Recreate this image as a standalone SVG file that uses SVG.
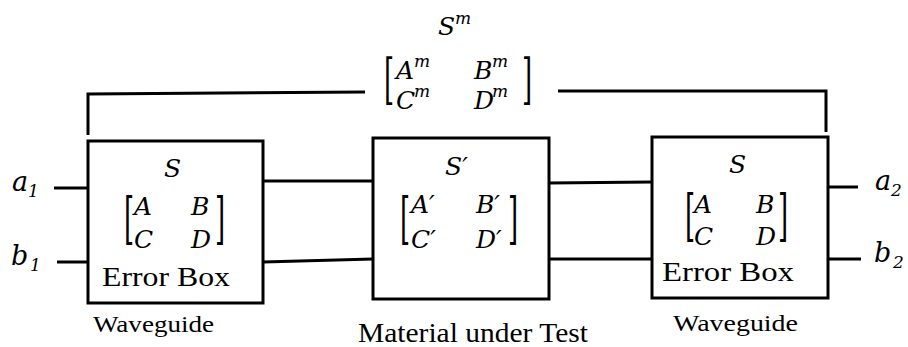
<svg xmlns="http://www.w3.org/2000/svg" width="908" height="347" viewBox="0 0 908 347">
  <style>
    .box { fill: #fff; stroke: #000; stroke-width: 3; }
    .wire { fill: none; stroke: #000; stroke-width: 3; }
    text { font-family: "DejaVu Serif", "Liberation Serif", serif; fill: #000; }
    .m { font-style: italic; font-size: 25px; }
    .p { font-style: italic; font-size: 27px; }
    .sup { font-size: 17px; }
    .br { font-size: 26px; font-weight: 300; }
    .tx { font-family: "Liberation Serif", "DejaVu Serif", serif; }
  </style>
  <defs>
    <!-- tall square brackets for the 2x2 matrices -->
    <text id="lb" class="br">[</text>
    <text id="rb" class="br">]</text>
  </defs>

  <!-- connectors -->
  <g id="connectors">
    <path class="wire" d="M54,188 H88"/>
    <path class="wire" d="M57,262 H88"/>
    <path class="wire" d="M263,181 H373"/>
    <path class="wire" d="M263,262 L373,259"/>
    <path class="wire" d="M549,183 L652,182"/>
    <path class="wire" d="M549,259 H652"/>
    <path class="wire" d="M828,187 H858"/>
    <path class="wire" d="M828,259 H861"/>
    <!-- overall measured network bracket -->
    <path class="wire" d="M88,135 V94 L365,92"/>
    <path class="wire" d="M558,91 H826 V132"/>
  </g>

  <!-- port labels -->
  <g id="ports">
    <text class="p" x="12" y="191">a<tspan class="sup" x="28" y="197">1</tspan></text>
    <text class="p" x="11" y="265">b<tspan class="sup" x="30" y="271">1</tspan></text>
    <text class="p" x="875" y="190">a<tspan class="sup" x="891" y="196">2</tspan></text>
    <text class="p" x="874" y="262">b<tspan class="sup" x="893" y="268">2</tspan></text>
  </g>

  <!-- measured S-parameters of the whole chain -->
  <g id="measured">
    <text class="m" x="438" y="35">S<tspan class="sup" x="455" y="24">m</tspan></text>
    <use href="#lb" transform="translate(384,98) scale(1,2.05)"/>
    <text class="m" x="396" y="79">A<tspan class="sup" x="414" y="67">m</tspan></text>
    <text class="m" x="474" y="79">B<tspan class="sup" x="492" y="67">m</tspan></text>
    <text class="m" x="396" y="109">C<tspan class="sup" x="414" y="97">m</tspan></text>
    <text class="m" x="474" y="109">D<tspan class="sup" x="492" y="97">m</tspan></text>
    <use href="#rb" transform="translate(522,98) scale(1,2.05)"/>
  </g>

  <!-- input waveguide error box -->
  <g id="errorbox-left">
    <rect class="box" x="88" y="141" width="175" height="162"/>
    <text class="m" x="164" y="177">S</text>
    <use href="#lb" transform="translate(124,238) scale(1,2.13)"/>
    <text class="m" x="134" y="215">A</text>
    <text class="m" x="191" y="215">B</text>
    <text class="m" x="134" y="248">C</text>
    <text class="m" x="191" y="248">D</text>
    <use href="#rb" transform="translate(215,238) scale(1,2.13)"/>
    <text class="tx" x="102" y="286" font-size="28" textLength="128" lengthAdjust="spacingAndGlyphs">Error Box</text>
  </g>

  <!-- material under test -->
  <g id="mut">
    <rect class="box" x="373" y="138" width="176" height="161"/>
    <text class="m" x="445" y="175">S′</text>
    <use href="#lb" transform="translate(400,238) scale(1,2.13)"/>
    <text class="m" x="411" y="213">A′</text>
    <text class="m" x="476" y="213">B′</text>
    <text class="m" x="411" y="248">C′</text>
    <text class="m" x="476" y="248">D′</text>
    <use href="#rb" transform="translate(508,238) scale(1,2.13)"/>
  </g>

  <!-- output waveguide error box -->
  <g id="errorbox-right">
    <rect class="box" x="652" y="137" width="176" height="161"/>
    <text class="m" x="729" y="173">S</text>
    <use href="#lb" transform="translate(685,235) scale(1,2.13)"/>
    <text class="m" x="694" y="213">A</text>
    <text class="m" x="756" y="213">B</text>
    <text class="m" x="694" y="245">C</text>
    <text class="m" x="756" y="245">D</text>
    <use href="#rb" transform="translate(778,235) scale(1,2.13)"/>
    <text class="tx" x="662" y="281" font-size="28" textLength="132" lengthAdjust="spacingAndGlyphs">Error Box</text>
  </g>

  <!-- captions -->
  <g id="captions">
    <text class="tx" x="93" y="332" font-size="24" textLength="121" lengthAdjust="spacingAndGlyphs">Waveguide</text>
    <text class="tx" x="358" y="342" font-size="28" textLength="230" lengthAdjust="spacingAndGlyphs">Material under Test</text>
    <text class="tx" x="673" y="331" font-size="24" textLength="125" lengthAdjust="spacingAndGlyphs">Waveguide</text>
  </g>
</svg>
